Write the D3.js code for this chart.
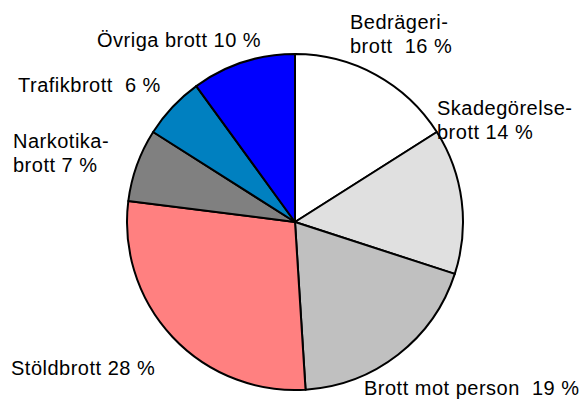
<!DOCTYPE html>
<html>
<head>
<meta charset="utf-8">
<script src="https://cdn.jsdelivr.net/npm/d3@7"></script>
<style>
  body { margin: 0; background: #fff; }
  text { font-family: "Liberation Sans", Arial, sans-serif; font-size: 20px; letter-spacing: 0.5px; fill: #000; }
</style>
</head>
<body>
<div id="chart"></div>
<script>
// data, clockwise from 12 o'clock
var categories = ["Bedrägeribrott", "Skadegörelsebrott", "Brott mot person", "Stöldbrott",
                  "Narkotikabrott", "Trafikbrott", "Övriga brott"];
var shares = [16, 14, 19, 28, 7, 6, 10];
var labelLines = [
  ["Bedrägeri-", "brott  16 %"],
  ["Skadegörelse-", "brott 14 %"],
  ["Brott mot person  19 %"],
  ["Stöldbrott 28 %"],
  ["Narkotika-", "brott 7 %"],
  ["Trafikbrott  6 %"],
  ["Övriga brott 10 %"]
];

var colors = ["#ffffff", "#e0e0e0", "#c0c0c0", "#ff8080", "#808080", "#0080c0", "#0000ff"];
// label anchor (left x, first baseline y)
var labelAt = [[350, 29], [437, 115], [364, 395], [11, 375], [13, 148], [18, 92], [97, 47]];

var width = 580, height = 400;
var cx = 295, cy = 222, r = 168;

var svg = d3.select("#chart")
  .append("svg")
  .attr("width", width)
  .attr("height", height);

var pie = d3.pie().sort(null).value(function(d) { return d; });
var arc = d3.arc().innerRadius(0).outerRadius(r);

var g = svg.append("g")
  .attr("transform", "translate(" + cx + "," + cy + ")");

g.selectAll("path")
  .data(pie(shares))
  .enter()
  .append("path")
  .attr("d", arc)
  .attr("fill", function(d, i) { return colors[i]; })
  .attr("stroke", "#000")
  .attr("stroke-width", 2)
  .attr("stroke-linejoin", "round");

// labels
var labels = svg.selectAll(".lbl")
  .data(categories)
  .enter()
  .append("text")
  .attr("class", "lbl")
  .attr("x", function(d, i) { return labelAt[i][0]; })
  .attr("y", function(d, i) { return labelAt[i][1]; });

labels.each(function(d, i) {
  var t = d3.select(this);
  labelLines[i].forEach(function(line, j) {
    t.append("tspan")
      .attr("x", labelAt[i][0])
      .attr("dy", j == 0 ? 0 : 24)
      .style("white-space", "pre")
      .text(line);
  });
});
</script>
</body>
</html>
